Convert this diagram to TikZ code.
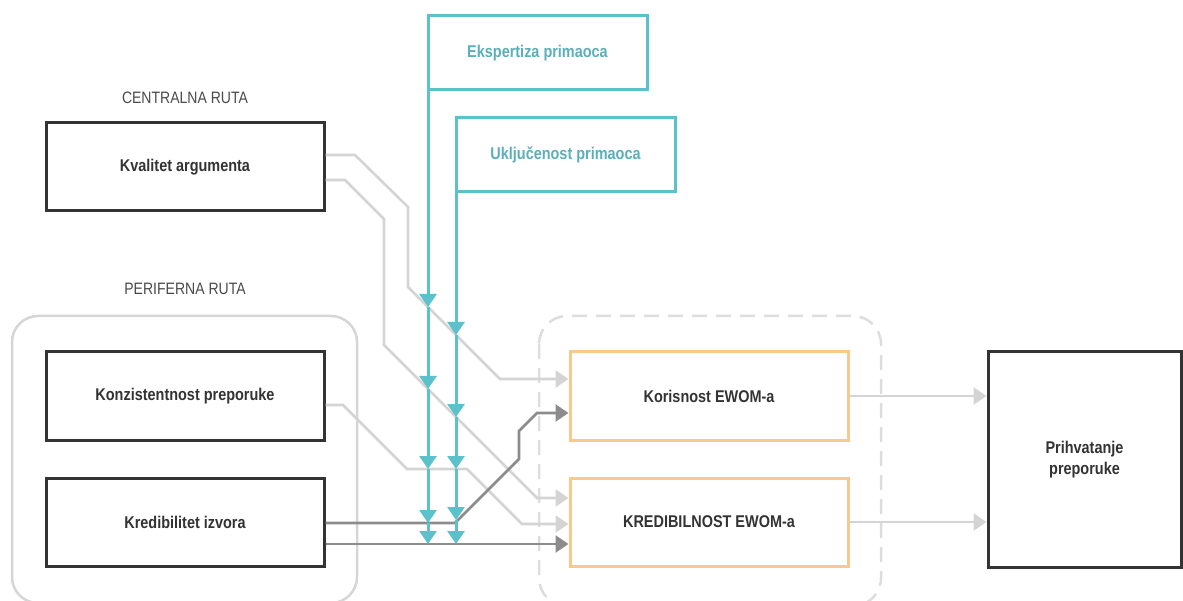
\documentclass[tikz,border=0pt]{standalone}
\usepackage{fontspec}
\setmainfont{Liberation Sans}[FakeStretch=0.85]
\usetikzlibrary{arrows.meta}
\definecolor{tealln}{HTML}{5BC2CC}
\definecolor{tealtx}{HTML}{5AAFB9}
\definecolor{boxln}{HTML}{333333}
\definecolor{lgray}{HTML}{D4D4D4}
\definecolor{dgray}{HTML}{8C8C8C}
\definecolor{orng}{HTML}{F9C88B}
\definecolor{perifgray}{HTML}{D6D6D6}
\definecolor{dashgray}{HTML}{DDDDDD}
\definecolor{lbltx}{HTML}{4A4A4A}
\tikzset{
  blk/.style={draw=boxln, line width=3pt, fill=white, minimum width=278pt, minimum height=88pt, font=\fontsize{17}{21}\selectfont\bfseries, text=boxln, align=center},
  orbox/.style={blk, draw=orng},
  tealbox/.style={draw=tealln, line width=3pt, fill=white, outer sep=0pt, minimum width=219pt, minimum height=74pt, font=\fontsize{17}{20}\selectfont\bfseries, text=tealtx},
  routelbl/.style={font=\fontsize{16.5}{19}\selectfont, text=lbltx},
  lline/.style={draw=lgray, line width=2.6pt, line join=miter, -{Triangle[width=17pt,length=13pt]}},
  dline/.style={draw=dgray, line width=2.6pt, -{Triangle[width=17pt,length=13pt]}},
  tline/.style={draw=tealln, line width=3pt, -{Triangle[width=17pt,length=13pt]}},
}
\begin{document}
\begin{tikzpicture}[x=1pt,y=-1pt]
\useasboundingbox (0,0) rectangle (1183,601);
% containers
\draw[draw=perifgray, line width=2.5pt, rounded corners=26pt] (12,316) rectangle (357,603);
\draw[draw=dashgray, line width=2.5pt, dash pattern=on 15pt off 9pt, rounded corners=28pt] (539,316) rectangle (881,606);
% labels
\node[routelbl] (lc) at (185,98) {CENTRALNA RUTA};
\node[routelbl] (lp) at (185,289) {PERIFERNA RUTA};
% boxes
\node[blk] (kval) at (185,167) {Kvalitet argumenta};
\node[blk] (konz) at (185,396) {Konzistentnost preporuke};
\node[blk] (krz) at (185,522) {Kredibilitet izvora};
\node[orbox] (kor) at (709,396) {Korisnost EWOM-a};
\node[orbox] (kred) at (709,522) {KREDIBILNOST EWOM-a};
\node[blk, minimum width=193pt, minimum height=215pt] (prih) at (1084.5,459.5) {Prihvatanje\\preporuke};
\node[tealbox] (eks) at (537.5,53) {Ekspertiza primaoca};
\node[tealbox] (ukl) at (565.5,155) {Uključenost primaoca};
% light gray connectors
\path[lline] (kval.east |- 0,155) -- (355,155) -- (408,207) -- (408,287) -- (500,379) -- (kor.west |- 0,379);
\path[lline] (kval.east |- 0,180) -- (345,180) -- (384,219) -- (384,345) -- (537,498) -- (kred.west |- 0,498);
\path[lline] (konz.east |- 0,405) -- (343,405) -- (407,469) -- (467,469) -- (522,524) -- (kred.west |- 0,524);
\path[lline] (kor.east) -- (prih.west |- kor.east);
\path[lline] (kred.east) -- (prih.west |- kred.east);
% dark gray connectors
\path[dline] (krz.east |- 0,523) -- (455,523) -- (519,459) -- (519,431) -- (537,413) -- (kor.west |- 0,413);
\path[dline] (krz.east |- 0,544) -- (kred.west |- 0,544);
% teal moderators
\coordinate (a1) at (428,307);
\coordinate (a2) at (428,389);
\coordinate (a3) at (428,469);
\coordinate (a4) at (428,523);
\coordinate (a5) at (428,544);
\coordinate (b1) at (456,335);
\coordinate (b2) at (456,417);
\coordinate (b3) at (456,469);
\coordinate (b4) at (456,520);
\coordinate (b5) at (456,544);
\path[tline] (eks.south west) -- (a1);
\path[tline] (a1) -- (a2);
\path[tline] (a2) -- (a3);
\path[tline] (a3) -- (a4);
\path[tline] (a4) -- (a5);
\path[tline] (ukl.south west) -- (b1);
\path[tline] (b1) -- (b2);
\path[tline] (b2) -- (b3);
\path[tline] (b3) -- (b4);
\path[tline] (b4) -- (b5);
% redraw teal boxes on top of their lines
\node[tealbox] at (eks) {Ekspertiza primaoca};
\node[tealbox] at (ukl) {Uključenost primaoca};
\end{tikzpicture}
\end{document}
